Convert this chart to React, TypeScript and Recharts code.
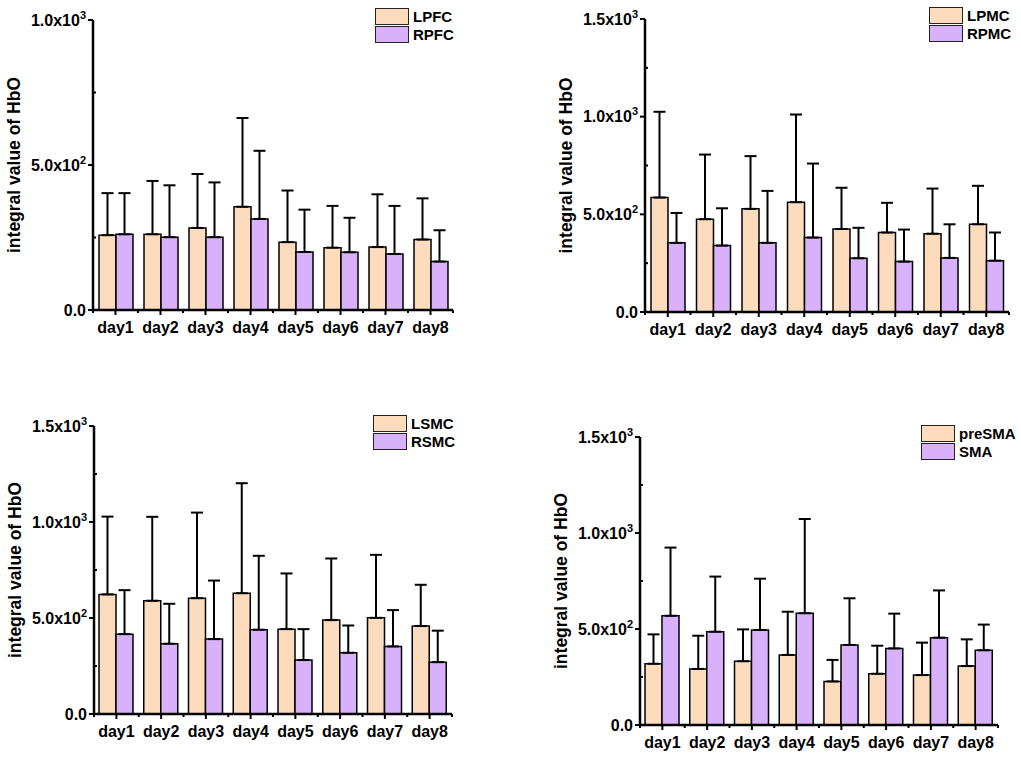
import React from 'react'
import { BarChart, Bar, XAxis, YAxis, ErrorBar } from 'recharts'

const days = ['day1', 'day2', 'day3', 'day4', 'day5', 'day6', 'day7', 'day8']

// mean and SD
const lpfcMean = [258, 261, 283, 356, 234, 215, 217, 243]
const lpfcSd = [145, 184, 186, 306, 178, 144, 182, 142]
const rpfcMean = [261, 251, 251, 314, 200, 199, 193, 167]
const rpfcSd = [142, 179, 189, 235, 146, 119, 166, 108]

const lpmcMean = [586, 475, 528, 562, 425, 407, 401, 449]
const lpmcSd = [439, 331, 270, 449, 211, 152, 231, 197]
const rpmcMean = [354, 340, 354, 381, 275, 258, 277, 263]
const rpmcSd = [153, 191, 266, 379, 156, 164, 172, 144]

const lsmcMean = [623, 590, 603, 629, 442, 489, 501, 458]
const lsmcSd = [405, 437, 446, 573, 290, 321, 328, 215]
const rsmcMean = [416, 366, 390, 439, 281, 319, 352, 270]
const rsmcSd = [229, 208, 305, 385, 161, 142, 189, 164]

const preSmaMean = [319, 292, 332, 365, 227, 267, 260, 307]
const preSmaSd = [153, 173, 166, 225, 112, 146, 169, 139]
const smaMean = [569, 486, 495, 582, 417, 399, 455, 389]
const smaSd = [355, 287, 267, 491, 243, 181, 246, 134]

const ticks1000 = [0, 250, 500, 750, 1000]
const ticks1500 = [0, 250, 500, 750, 1000, 1250, 1500]

const PEACH = '#FDDCBE'
const LILAC = '#D8B1FA'
const FONT = '"Liberation Sans", Arial, sans-serif'
const Y_W = 70
const X_H = 30

const rows = (a: number[], aSd: number[], b: number[], bSd: number[]) =>
  days.map((day, i) => ({ day, a: a[i], aErr: [0, aSd[i]], b: b[i], bErr: [0, bSd[i]] }))

const fmt = (v: number) => {
  if (v === 0) return { m: '0.0', e: '' }
  const e = Math.floor(Math.log10(v))
  return { m: (v / Math.pow(10, e)).toFixed(1), e: String(e) }
}

const YTick = (props: any) => {
  const { x, y, payload } = props
  const v = payload.value
  const major = v % 500 === 0
  const { m, e } = fmt(v)
  return (
    <g>
      <line x1={x} x2={major ? x - 5 : x + 3} y1={y} y2={y} stroke="#000" strokeWidth={2} />
      {major && (
        <text x={x - 7} y={y + 5.5} textAnchor="end" fontSize={16} fontWeight="bold" fontFamily={FONT} fill="#000">
          {e ? `${m}x10` : m}
          {e && <tspan dy={-7} fontSize={11}>{e}</tspan>}
        </text>
      )}
    </g>
  )
}

const makeXTick = (step: number, count: number) => (props: any) => {
  const { x, y, payload, index } = props
  return (
    <g>
      <line x1={x} x2={x} y1={y} y2={y + 5} stroke="#000" strokeWidth={2} />
      <line x1={x - step / 2} x2={x - step / 2} y1={y} y2={y + 3} stroke="#000" strokeWidth={2} />
      {index === count - 1 && (
        <line x1={x + step / 2} x2={x + step / 2} y1={y} y2={y + 3} stroke="#000" strokeWidth={2} />
      )}
      <text x={x} y={y + 23} textAnchor="middle" fontSize={16} fontWeight="bold" fontFamily={FONT} fill="#000">
        {payload.value}
      </text>
    </g>
  )
}

type PanelProps = {
  left: number
  top: number
  width: number
  height: number
  margin: { top: number; right: number; bottom: number; left: number }
  yMax: number
  yTicks: number[]
  names: [string, string]
  data: any[]
  legend: { x: number; y: number }
}

const Panel = ({ left, top, width, height, margin, yMax, yTicks, names, data, legend }: PanelProps) => {
  const plotW = width - margin.left - margin.right - Y_W
  const step = plotW / days.length
  return (
    <div style={{ position: 'absolute', left, top, width, height }}>
      <BarChart width={width} height={height} data={data} margin={margin} barGap={0} barSize={17}>
        <XAxis
          dataKey="day"
          height={X_H}
          interval={0}
          tickLine={false}
          tickSize={0}
          tickMargin={0}
          axisLine={{ stroke: '#000', strokeWidth: 2.5 }}
          tick={makeXTick(step, days.length)}
        />
        <YAxis
          width={Y_W}
          domain={[0, yMax]}
          ticks={yTicks}
          interval={0}
          tickLine={false}
          tickSize={0}
          tickMargin={0}
          axisLine={{ stroke: '#000', strokeWidth: 2.5 }}
          tick={<YTick />}
          label={{
            content: (p: any) => {
              const vb = p.viewBox
              const cx = vb.x + vb.width - 79
              const cy = vb.y + vb.height / 2
              return (
                <text
                  x={cx}
                  y={cy}
                  transform={`rotate(-90 ${cx} ${cy})`}
                  textAnchor="middle"
                  dominantBaseline="central"
                  fontSize={17.5}
                  fontWeight="bold"
                  fontFamily={FONT}
                  fill="#000"
                >
                  integral value of HbO
                </text>
              )
            },
          }}
        />
        <Bar dataKey="a" name={names[0]} fill={PEACH} stroke="#000" strokeWidth={1.5} isAnimationActive={false}>
          <ErrorBar dataKey="aErr" direction="y" width={6} stroke="#000" strokeWidth={2} />
        </Bar>
        <Bar dataKey="b" name={names[1]} fill={LILAC} stroke="#000" strokeWidth={1.5} isAnimationActive={false}>
          <ErrorBar dataKey="bErr" direction="y" width={6} stroke="#000" strokeWidth={2} />
        </Bar>
      </BarChart>
      <div style={{ position: 'absolute', left: legend.x, top: legend.y, fontFamily: FONT }}>
        {names.map((n, i) => (
          <div key={n} style={{ display: 'flex', alignItems: 'center', height: 18 }}>
            <div
              style={{
                width: 32,
                height: 15,
                background: i === 0 ? PEACH : LILAC,
                border: '1.5px solid #222',
              }}
            />
            <span style={{ marginLeft: 4, fontSize: 15, fontWeight: 'bold', color: '#000' }}>{n}</span>
          </div>
        ))}
      </div>
    </div>
  )
}

export default function App() {
  return (
    <div style={{ position: 'absolute', left: 0, top: 0, width: 1021, height: 759, background: '#fff' }}>
      <Panel
        left={0}
        top={0}
        width={510}
        height={380}
        margin={{ top: 20, right: 57, bottom: 40, left: 23 }}
        yMax={1000}
        yTicks={ticks1000}
        names={['LPFC', 'RPFC']}
        data={rows(lpfcMean, lpfcSd, rpfcMean, rpfcSd)}
        legend={{ x: 375, y: 7 }}
      />
      <Panel
        left={510}
        top={0}
        width={511}
        height={380}
        margin={{ top: 19, right: 12, bottom: 38, left: 65 }}
        yMax={1500}
        yTicks={ticks1500}
        names={['LPMC', 'RPMC']}
        data={rows(lpmcMean, lpmcSd, rpmcMean, rpmcSd)}
        legend={{ x: 419, y: 6 }}
      />
      <Panel
        left={0}
        top={380}
        width={510}
        height={379}
        margin={{ top: 46, right: 58, bottom: 15, left: 24 }}
        yMax={1500}
        yTicks={ticks1500}
        names={['LSMC', 'RSMC']}
        data={rows(lsmcMean, lsmcSd, rsmcMean, rsmcSd)}
        legend={{ x: 373, y: 34 }}
      />
      <Panel
        left={510}
        top={380}
        width={511}
        height={379}
        margin={{ top: 57, right: 23, bottom: 4, left: 60 }}
        yMax={1500}
        yTicks={ticks1500}
        names={['preSMA', 'SMA']}
        data={rows(preSmaMean, preSmaSd, smaMean, smaSd)}
        legend={{ x: 411, y: 44 }}
      />
    </div>
  )
}
